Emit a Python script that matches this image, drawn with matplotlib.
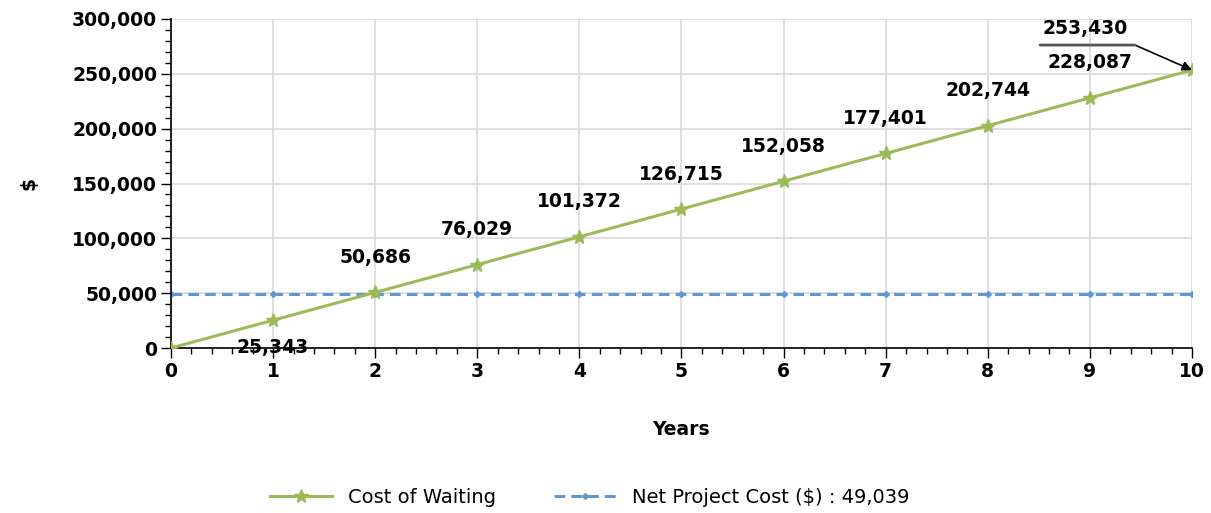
import matplotlib
matplotlib.use('Agg')
import matplotlib.pyplot as plt
from matplotlib.ticker import MultipleLocator, FuncFormatter
from matplotlib.transforms import offset_copy

years = [0, 1, 2, 3, 4, 5, 6, 7, 8, 9, 10]
cost_of_waiting = [0, 25343, 50686, 76029, 101372, 126715, 152058, 177401, 202744, 228087, 253430]
net_project_cost = [49039] * 11
series_names = ['Cost of Waiting', 'Net Project Cost ($) : 49,039']

green = '#9bbb59'
blue = '#5f97d6'
fs = 13.5

fig = plt.figure(figsize=(12.11, 5.13), dpi=100)
ax = fig.add_axes([0.1412, 0.3216, 0.8431, 0.6414])

ax.plot(years, cost_of_waiting, color=green, lw=2.2, marker='*', ms=10, mec=green, mfc=green,
        label=series_names[0], zorder=3)
ax.plot(years, net_project_cost, color=blue, lw=2.2, ls=(0, (3.5, 2)), marker='D', ms=3,
        mec=blue, mfc=blue, label=series_names[1], zorder=2)

ax.set_xlim(0, 10)
ax.set_ylim(0, 300000)
ax.xaxis.set_major_locator(MultipleLocator(1))
ax.xaxis.set_minor_locator(MultipleLocator(0.2))
ax.yaxis.set_major_locator(MultipleLocator(50000))
ax.yaxis.set_minor_locator(MultipleLocator(10000))
ax.yaxis.set_major_formatter(FuncFormatter(lambda v, p: '{:,.0f}'.format(v)))
ax.grid(True, which='major', color='#d9d9d9', lw=1.2)
ax.set_axisbelow(True)
for s in ['top', 'right']:
    ax.spines[s].set_visible(False)
for s in ['left', 'bottom']:
    ax.spines[s].set_color('black')
    ax.spines[s].set_linewidth(1.2)
ax.tick_params(axis='both', which='major', length=7, width=1, labelsize=fs, direction='out')
ax.tick_params(axis='both', which='minor', length=4, width=1, direction='out')
ax.tick_params(axis='x', pad=3)
ax.tick_params(axis='y', pad=3)
for lab in ax.get_xticklabels() + ax.get_yticklabels():
    lab.set_fontweight('bold')

ax.set_xlabel('Years', fontsize=fs, fontweight='bold', labelpad=28)
ax.set_ylabel('$', fontsize=fs, fontweight='bold', labelpad=24)

# data labels
for i in range(1, 10):
    dy = -27 if i == 1 else 35
    ax.annotate('{:,}'.format(cost_of_waiting[i]), (years[i], cost_of_waiting[i]),
                xytext=(0, dy), textcoords='offset pixels', ha='center', va='center',
                fontsize=fs, fontweight='bold', annotation_clip=False)

# last label with leader line
x10, y10 = years[-1], cost_of_waiting[-1]
ax.annotate('{:,}'.format(y10), (x10, y10), xytext=(-107, 42), textcoords='offset pixels',
            ha='center', va='center', fontsize=fs, fontweight='bold', annotation_clip=False)
ax.annotate('', xy=(x10, y10), xytext=(x10, y10),
            textcoords=offset_copy(ax.transData, fig=fig, x=-57, y=25, units='dots'),
            arrowprops=dict(arrowstyle='-|>', color='black', lw=1.2, shrinkA=0, shrinkB=0,
                            mutation_scale=14), annotation_clip=False)
ax.annotate('', xy=(x10, y10), xycoords=offset_copy(ax.transData, fig=fig, x=-57, y=25, units='dots'),
            xytext=(x10, y10), textcoords=offset_copy(ax.transData, fig=fig, x=-152, y=25, units='dots'),
            arrowprops=dict(arrowstyle='-', color='#555555', lw=2, shrinkA=0, shrinkB=0),
            annotation_clip=False)

fig.legend(loc='center', bbox_to_anchor=(0.487, 0.031), ncol=2, frameon=False, fontsize=14,
           handlelength=3.2, columnspacing=3.0)

fig.savefig('out.png', dpi=100)
